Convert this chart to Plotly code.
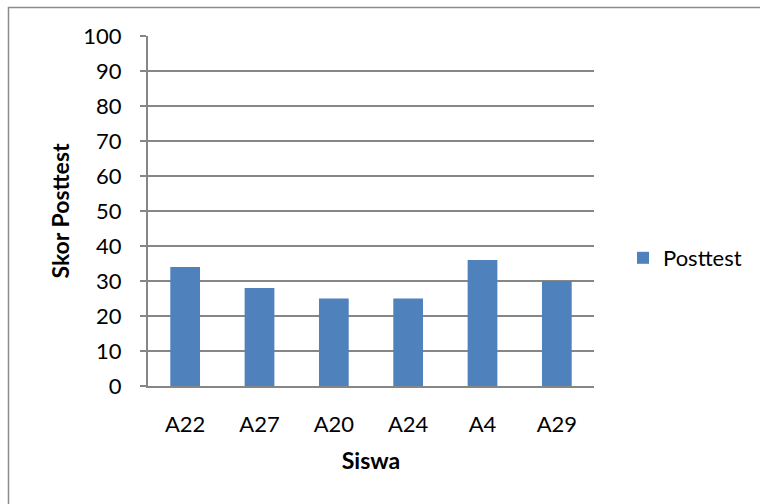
import plotly.graph_objects as go

# Posttest scores per student
siswa = ["A22", "A27", "A20", "A24", "A4", "A29"]
skor = [34, 28, 25, 25, 36, 30]
y_ticks = [0, 10, 20, 30, 40, 50, 60, 70, 80, 90, 100]

W, H = 760, 504
L, R, T, B = 148, 166, 36, 118
pw, ph = W - L - R, H - T - B

def px_x(x):
    return (x - L) / pw

def px_y(y):
    return (H - B - y) / ph

grid = "#868686"
font_family = "Lato, 'Open Sans', sans-serif"

fig = go.Figure(
    go.Bar(
        x=siswa,
        y=skor,
        name="Posttest",
        marker=dict(color="#4F81BD", line=dict(width=0)),
        showlegend=True,
    )
)

fig.update_layout(
    width=W,
    height=H,
    margin=dict(l=L, r=R, t=T, b=B, autoexpand=False),
    paper_bgcolor="white",
    plot_bgcolor="white",
    bargap=0.6,
    font=dict(family=font_family, size=22, color="black"),
    showlegend=True,
    legend=dict(
        x=px_x(623),
        y=px_y(258),
        xanchor="left",
        yanchor="middle",
        font=dict(size=22),
        itemwidth=30,
        bgcolor="rgba(0,0,0,0)",
    ),
    xaxis=dict(
        title=dict(text="<b>Siswa</b>", font=dict(size=23), standoff=16),
        showgrid=False,
        showline=True,
        linecolor=grid,
        linewidth=2,
        ticks="",
        ticklabelstandoff=18,
        tickfont=dict(size=22),
    ),
    yaxis=dict(
        title=dict(text="<b>Skor Posttest</b>", font=dict(size=23), standoff=7),
        range=[0, 100],
        tickvals=y_ticks,
        showgrid=True,
        gridcolor=grid,
        gridwidth=2,
        showline=True,
        linecolor=grid,
        linewidth=2,
        ticks="outside",
        ticklen=6,
        tickwidth=2,
        tickcolor=grid,
        ticklabelstandoff=14,
        tickfont=dict(size=22),
        zeroline=False,
    ),
    shapes=[
        dict(
            type="rect",
            xref="paper",
            yref="paper",
            x0=px_x(8.5),
            x1=px_x(800),
            y0=px_y(560),
            y1=px_y(7.5),
            line=dict(color="#8c8c8c", width=1.5),
            fillcolor="rgba(0,0,0,0)",
            layer="below",
        )
    ],
)

fig.write_html("out.html")
